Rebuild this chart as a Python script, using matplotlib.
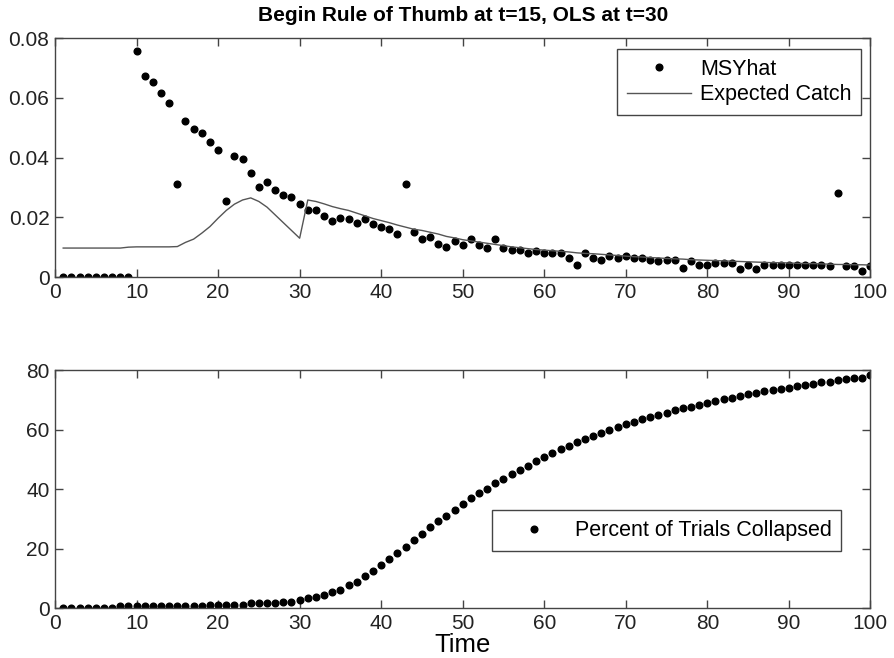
import matplotlib
matplotlib.use("Agg")
import matplotlib.pyplot as plt
import numpy as np

plt.rcParams['font.family'] = ['Liberation Sans', 'DejaVu Sans']

t = np.arange(1, 101)

# MSYhat estimates (top panel, dots)
msy_hat = [0, 0, 0, 0, 0, 0, 0, 0, 0, 0.0757,
           0.0674, 0.0653, 0.0615, 0.0584, 0.0313, 0.0524, 0.0496, 0.0481, 0.0453, 0.0425,
           0.0253, 0.0405, 0.0394, 0.0350, 0.0302, 0.0318, 0.0292, 0.0276, 0.0269, 0.0243,
           0.0226, 0.0226, 0.0205, 0.0188, 0.0199, 0.0194, 0.0182, 0.0194, 0.0178, 0.0166,
           0.0160, 0.0145, 0.0313, 0.0150, 0.0128, 0.0134, 0.0112, 0.0101, 0.0121, 0.0106,
           0.0128, 0.0108, 0.0097, 0.0128, 0.0097, 0.0091, 0.0091, 0.0080, 0.0086, 0.0080,
           0.0080, 0.0080, 0.0063, 0.0041, 0.0080, 0.0063, 0.0058, 0.0069, 0.0063, 0.0069,
           0.0063, 0.0063, 0.0058, 0.0052, 0.0058, 0.0058, 0.0030, 0.0052, 0.0041, 0.0041,
           0.0047, 0.0047, 0.0047, 0.0027, 0.0041, 0.0027, 0.0041, 0.0041, 0.0041, 0.0041,
           0.0041, 0.0041, 0.0041, 0.0041, 0.0036, 0.0280, 0.0036, 0.0036, 0.0019, 0.0036]

# expected catch (top panel, line)
expected_catch = [0.0097, 0.0097, 0.0097, 0.0097, 0.0097, 0.0097, 0.0097, 0.0097, 0.0100, 0.0101,
                  0.0101, 0.0101, 0.0101, 0.0101, 0.0102, 0.0116, 0.0127, 0.0147, 0.0169, 0.0197,
                  0.0223, 0.0244, 0.0258, 0.0265, 0.0253, 0.0234, 0.0208, 0.0182, 0.0156, 0.0130,
                  0.0258, 0.0253, 0.0245, 0.0236, 0.0229, 0.0223, 0.0214, 0.0205, 0.0196, 0.0189,
                  0.0182, 0.0174, 0.0167, 0.0160, 0.0156, 0.0150, 0.0144, 0.0136, 0.0131, 0.0125,
                  0.0121, 0.0117, 0.0113, 0.0109, 0.0105, 0.0101, 0.0098, 0.0095, 0.0092, 0.0090,
                  0.0088, 0.0086, 0.0084, 0.0081, 0.0079, 0.0078, 0.0076, 0.0074, 0.0072, 0.0070,
                  0.0068, 0.0067, 0.0065, 0.0064, 0.0062, 0.0061, 0.0060, 0.0058, 0.0057, 0.0056,
                  0.0055, 0.0054, 0.0053, 0.0052, 0.0051, 0.0050, 0.0049, 0.0048, 0.0048, 0.0047,
                  0.0046, 0.0045, 0.0045, 0.0044, 0.0043, 0.0042, 0.0042, 0.0041, 0.0041, 0.0040]

# percent of trials collapsed (bottom panel)
pct_collapsed = [0, 0, 0, 0, 0, 0, 0, 0.7, 0.7, 0.7,
                 0.7, 0.7, 0.7, 0.7, 0.7, 0.7, 0.7, 0.7, 1.1, 1.1,
                 1.1, 1.1, 1.1, 1.7, 1.7, 1.7, 1.7, 2.2, 2.2, 2.8,
                 3.4, 3.8, 4.5, 5.4, 6.0, 7.7, 8.7, 10.7, 12.5, 14.6,
                 16.5, 18.5, 20.7, 22.9, 24.9, 27.3, 29.2, 31.0, 33.1, 35.0,
                 36.9, 38.6, 40.1, 42.0, 43.4, 45.1, 46.5, 47.9, 49.4, 50.8,
                 52.1, 53.6, 54.5, 55.7, 56.9, 57.9, 58.9, 59.9, 61.0, 61.8,
                 62.7, 63.6, 64.2, 64.9, 65.7, 66.6, 67.2, 67.7, 68.2, 68.8,
                 69.7, 70.4, 70.8, 71.3, 71.9, 72.4, 72.9, 73.3, 73.6, 74.1,
                 74.6, 75.1, 75.5, 76.1, 76.1, 76.6, 77.0, 77.5, 77.5, 78.3]

fig = plt.figure(figsize=(8.95, 6.58), dpi=100)
ax1 = fig.add_axes([0.0615, 0.579, 0.911, 0.363])
ax2 = fig.add_axes([0.0615, 0.0755, 0.911, 0.362])

axcol = '#444444'
fs = 15
for ax in (ax1, ax2):
    for s in ax.spines.values():
        s.set_color(axcol)
        s.set_linewidth(1.0)
    ax.tick_params(direction='in', top=True, right=True, length=6, width=1,
                   color=axcol, labelsize=fs, labelcolor='#222222')
    ax.tick_params(axis='x', pad=4)
    ax.tick_params(axis='y', pad=4)
    ax.set_xlim(0, 100)
    ax.set_xticks(np.arange(0, 101, 10))

ax1.plot(t, msy_hat, 'o', color='black', ms=4.8, label='MSYhat')
ax1.plot(t, expected_catch, '-', color='#555555', lw=1.0, label='Expected Catch')
ax1.set_ylim(0, 0.08)
ax1.set_yticks([0, 0.02, 0.04, 0.06, 0.08])
ax1.set_yticklabels(['0', '0.02', '0.04', '0.06', '0.08'])
ax1.set_title('Begin Rule of Thumb at t=15, OLS at t=30', fontsize=15,
              fontweight='bold', pad=12)
leg1 = ax1.legend(loc='upper right', bbox_to_anchor=(0.989, 0.954), fontsize=15.5,
                  fancybox=False, edgecolor=axcol, framealpha=1, handlelength=3.0,
                  handletextpad=0.42, borderpad=0.45, labelspacing=0.2,
                  borderaxespad=0)
leg1.get_frame().set_linewidth(1.0)

ax2.plot(t, pct_collapsed, 'o', color='black', ms=4.8, label='Percent of Trials Collapsed')
ax2.set_ylim(0, 80)
ax2.set_yticks([0, 20, 40, 60, 80])
ax2.set_xlabel('Time', fontsize=18.5, labelpad=0)
leg2 = ax2.legend(loc='center', bbox_to_anchor=(0.75, 0.326), fontsize=15.5,
                  fancybox=False, edgecolor=axcol, framealpha=1, handlelength=3.0,
                  handletextpad=0.42, borderpad=0.45, borderaxespad=0)
leg2.get_frame().set_linewidth(1.0)

fig.savefig('out.png', dpi=100)
